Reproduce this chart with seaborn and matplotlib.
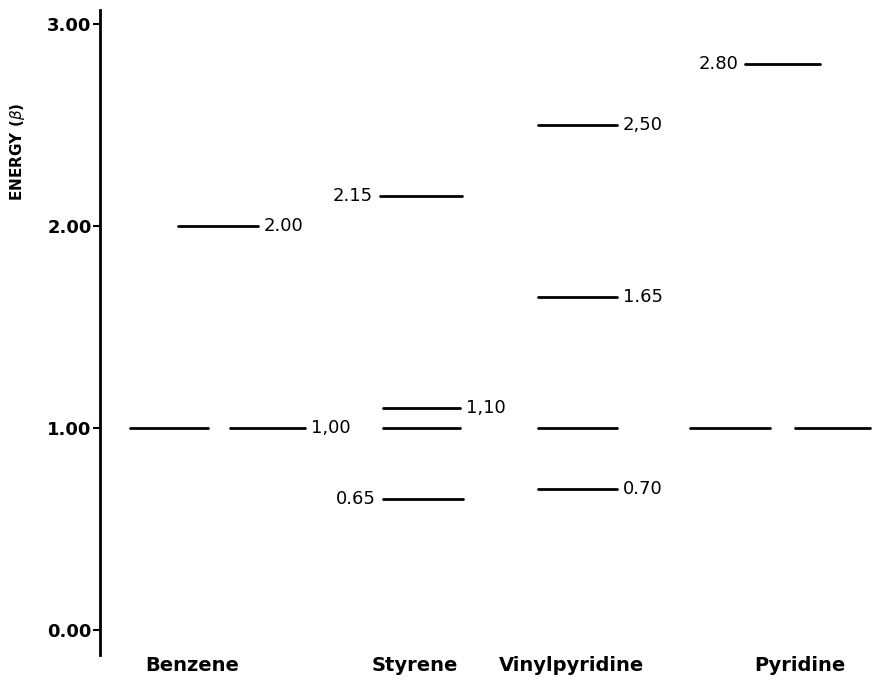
import numpy as np
import pandas as pd
import matplotlib
matplotlib.use("Agg")
import matplotlib.pyplot as plt
import seaborn as sns

# molecules along the x axis
molecules = ["Benzene", "Styrene", "Vinylpyridine", "Pyridine"]

# energy levels (in units of beta) for each molecule
benzene = [1.00, 1.00, 2.00]
styrene = [2.15, 1.10, 1.00, 0.65]
vinylpyridine = [2.50, 1.65, 1.00, 0.70]
pyridine = [2.80, 1.00, 1.00]

# printed value next to each level ("" = no label)
benzene_lbl = ["", "1,00", "2.00"]
styrene_lbl = ["2.15", "1,10", "", "0.65"]
vinylpyridine_lbl = ["2,50", "1.65", "", "0.70"]
pyridine_lbl = ["2.80", "", ""]

# layout: segment start/end (axis units, spine at 0) and which side the label sits on
benzene_seg = [(0.30, 1.08), (1.30, 2.05), (0.78, 1.58)]
styrene_seg = [(2.80, 3.62), (2.83, 3.60), (2.83, 3.60), (2.83, 3.63)]
vinyl_seg = [(4.38, 5.17)] * 4
pyridine_seg = [(6.45, 7.20), (5.90, 6.70), (6.95, 7.70)]
benzene_side = ["", "r", "r"]
styrene_side = ["l", "r", "", "l"]
vinyl_side = ["r", "r", "", "r"]
pyridine_side = ["l", "", ""]
label_x = [0.92, 3.15, 4.72, 7.00]

rows = []
lbls = []
seg_id = 0
for levels, labels, segs, sides in [
    (benzene, benzene_lbl, benzene_seg, benzene_side),
    (styrene, styrene_lbl, styrene_seg, styrene_side),
    (vinylpyridine, vinylpyridine_lbl, vinyl_seg, vinyl_side),
    (pyridine, pyridine_lbl, pyridine_seg, pyridine_side),
]:
    for e, lab, (x0, x1), side in zip(levels, labels, segs, sides):
        rows.append({"seg": seg_id, "x": x0, "energy": e})
        rows.append({"seg": seg_id, "x": x1, "energy": e})
        if lab:
            lbls.append((x0, x1, e, lab, side))
        seg_id += 1
df = pd.DataFrame(rows)

sns.set_style("ticks")
plt.rcParams["font.family"] = ["DejaVu Sans"]
plt.rcParams["text.color"] = "black"
plt.rcParams["axes.labelcolor"] = "black"
plt.rcParams["xtick.color"] = "black"
plt.rcParams["ytick.color"] = "black"
plt.rcParams["axes.edgecolor"] = "black"

fig = plt.figure(figsize=(8.72, 6.82), dpi=100)
ax = fig.add_axes([0.1147, 0.0396, 0.8853, 0.9457])

sns.lineplot(data=df, x="x", y="energy", units="seg", estimator=None,
             color="black", linewidth=2, ax=ax, legend=False)

for x0, x1, e, lab, side in lbls:
    if side == "r":
        ax.text(x1 + 0.06, e, lab, ha="left", va="center", fontsize=13)
    else:
        ax.text(x0 - 0.07, e, lab, ha="right", va="center", fontsize=13)

ax.set_xlim(0, 7.72)
ax.set_ylim(-0.124, 3.069)
ax.set_yticks([0, 1, 2, 3])
ax.set_yticklabels(["0.00", "1.00", "2.00", "3.00"], fontsize=13, fontweight="bold")
ax.set_xticks(label_x)
ax.set_xticklabels(molecules, fontsize=14, fontweight="semibold")
ax.tick_params(axis="x", length=0, pad=1)
ax.tick_params(axis="y", length=5, width=1.5, direction="out", pad=1)
ax.set_xlabel("")
ax.set_ylabel("ENERGY ($\\beta$)", fontsize=11, fontweight="bold", labelpad=10)
ax.yaxis.set_label_coords(-0.095, 0.78)

for s in ["top", "right", "bottom"]:
    ax.spines[s].set_visible(False)
ax.spines["left"].set_linewidth(2)

fig.savefig("out.png", dpi=100)
